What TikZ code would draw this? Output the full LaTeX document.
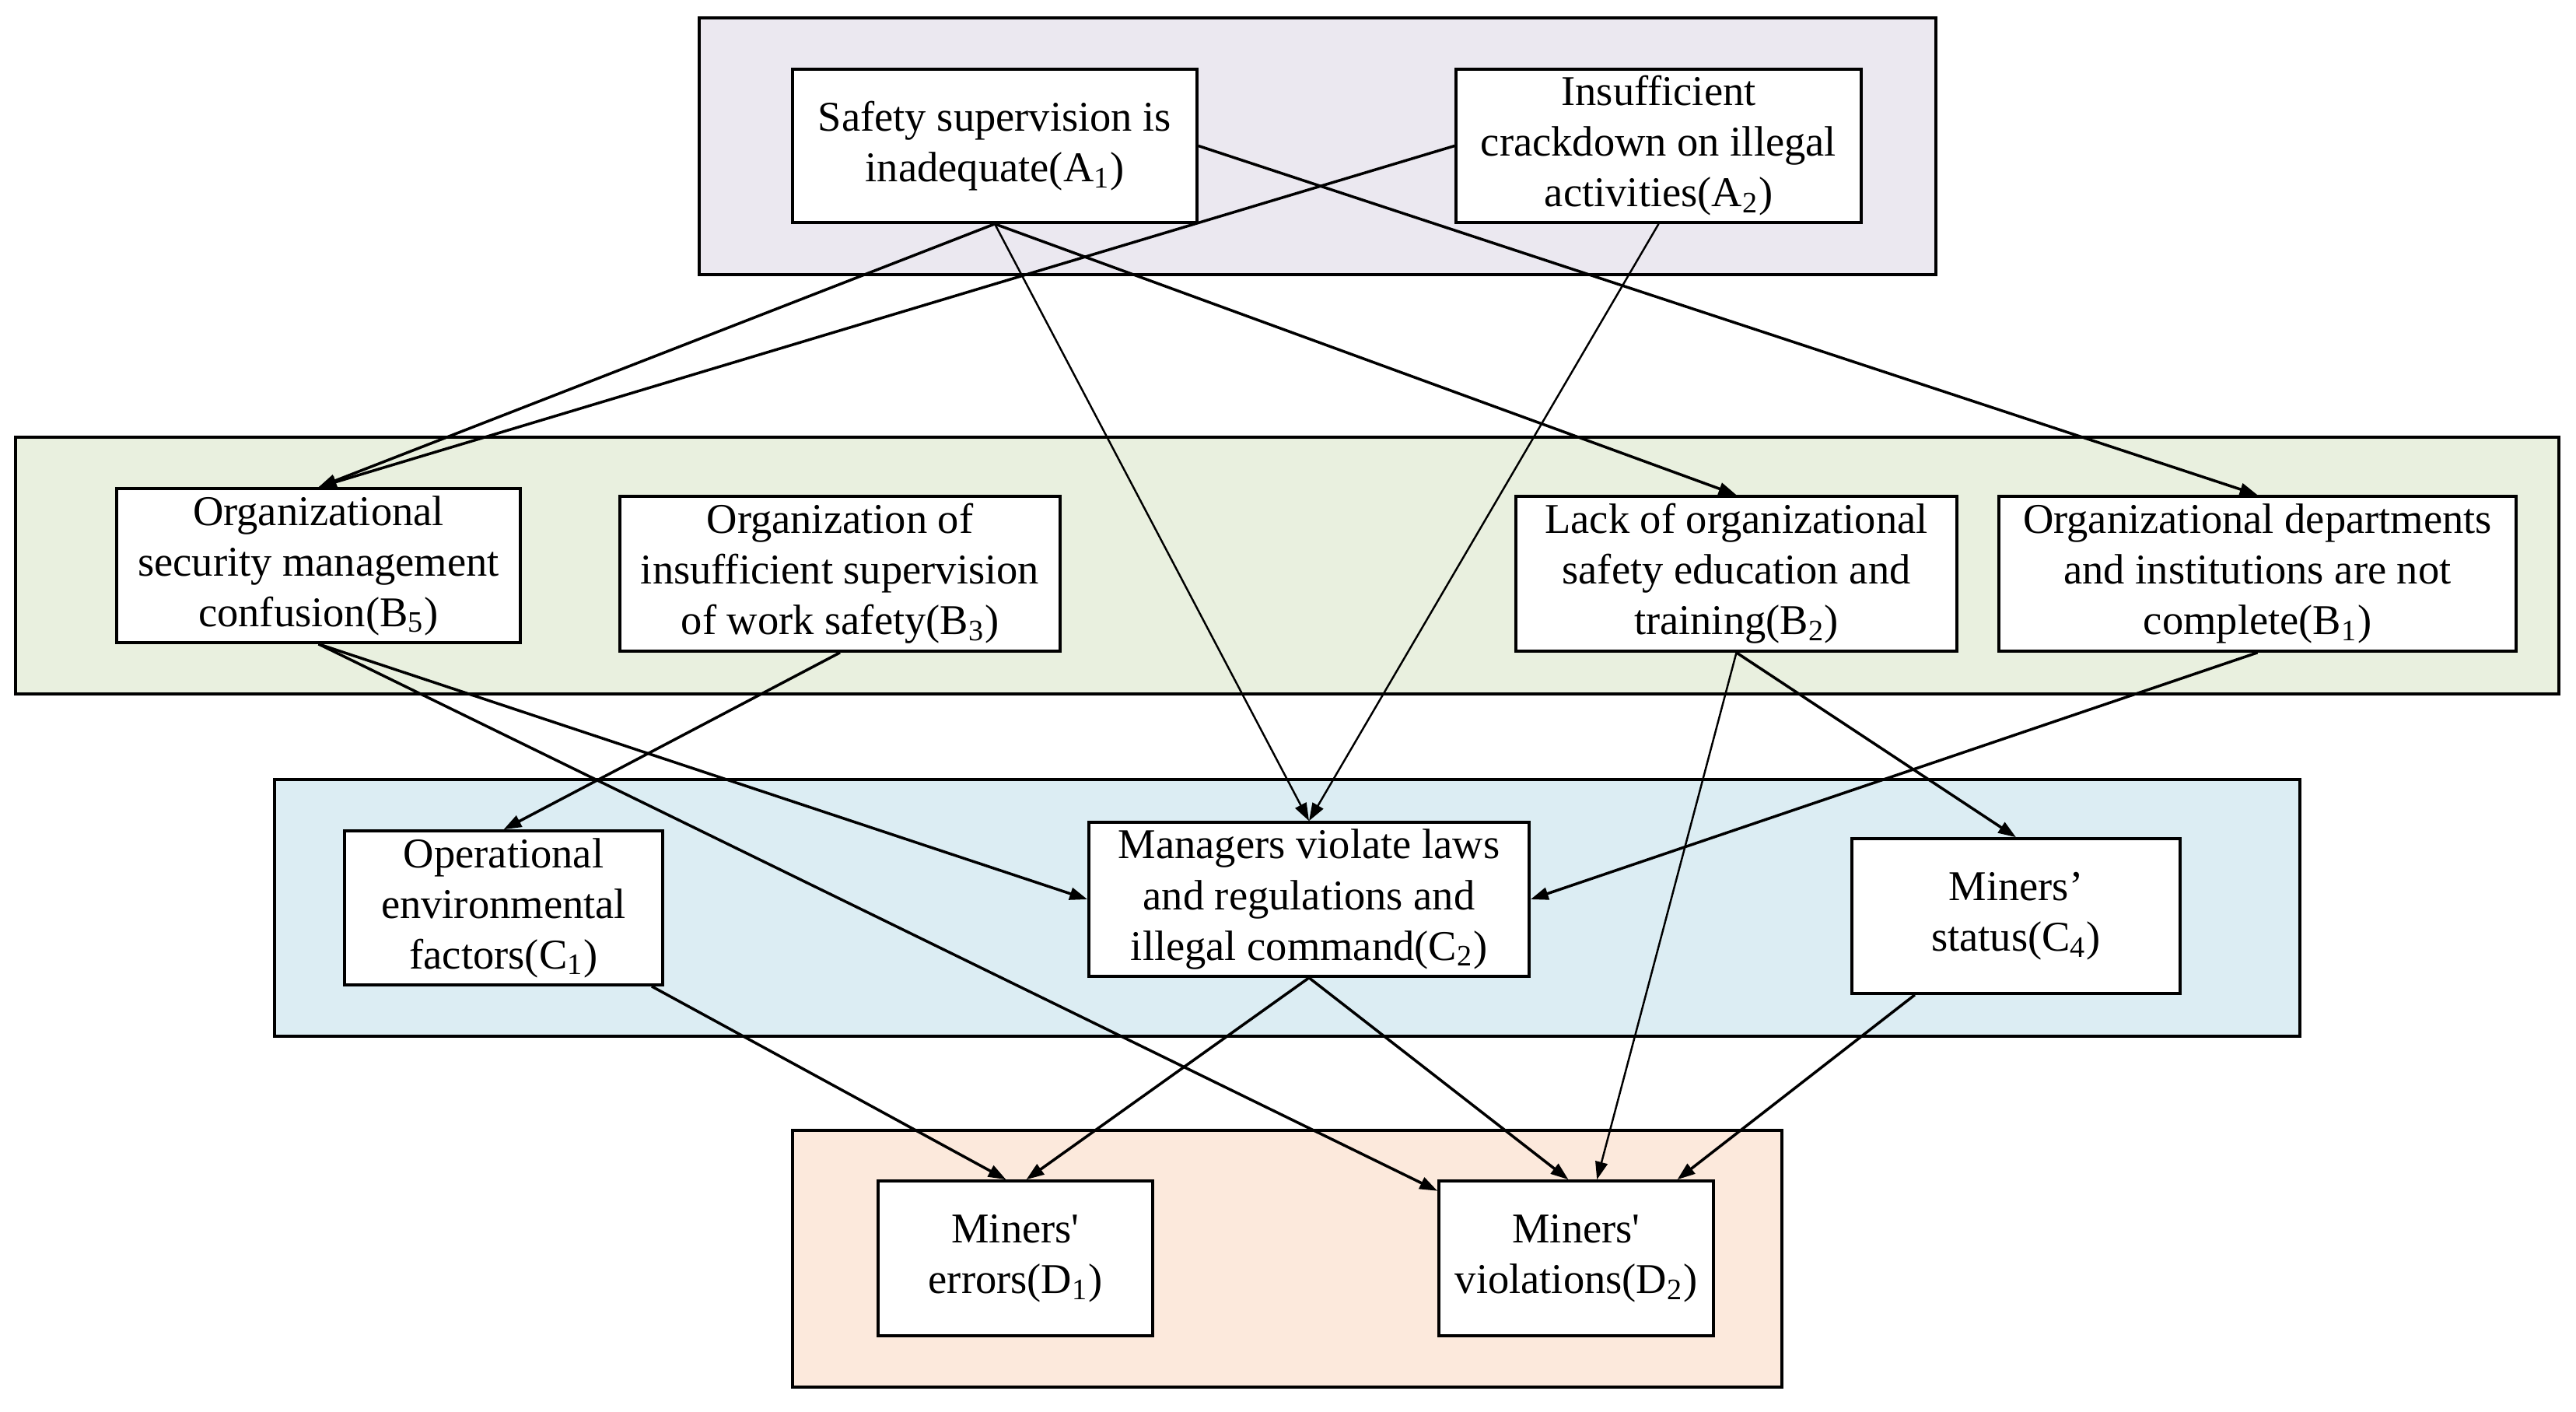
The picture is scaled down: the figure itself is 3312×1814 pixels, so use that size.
\documentclass[tikz,border=0pt]{standalone}
\usepackage{fontspec}
\setmainfont{Liberation Serif}
\usetikzlibrary{arrows.meta,calc}
\definecolor{grpA}{RGB}{235,232,240}
\definecolor{grpB}{RGB}{233,240,223}
\definecolor{grpC}{RGB}{220,237,243}
\definecolor{grpD}{RGB}{252,233,220}
\begin{document}
\begin{tikzpicture}[x=0.01cm,y=-0.01cm,
  grp/.style={draw=black,line width=1.3pt},
  box/.style={draw=black,fill=white,line width=1pt,align=center,inner sep=0pt,
    font=\fontsize{15.5pt}{18.5pt}\selectfont},
  edge/.style={line width=1pt,-{Triangle[length=6.5pt,width=4.5pt]}},
  thinedge/.style={edge,line width=0.7pt}]
\useasboundingbox (0,0) rectangle (3312,1814);
% group backgrounds
\path[grp,fill=grpA] (899,23) rectangle (2489,353);
\path[grp,fill=grpB] (20,562) rectangle (3290,892);
\path[grp,fill=grpC] (353,1002) rectangle (2957,1332);
\path[grp,fill=grpD] (1019,1453) rectangle (2291,1783);
% nodes
\node[box,minimum width=5.20cm,minimum height=1.97cm] (A1) at (1279,187.5)
  {Safety supervision is\\inadequate(A\textsubscript{1})};
\node[box,minimum width=5.21cm,minimum height=1.97cm] (A2) at (2132.5,187.5)
  {Insufficient\\crackdown on illegal\\activities(A\textsubscript{2})};
\node[box,minimum width=5.19cm,minimum height=1.98cm] (B5) at (409.5,727)
  {Organizational\\security management\\confusion(B\textsubscript{5})};
\node[box,minimum width=5.66cm,minimum height=1.99cm] (B3) at (1080,737.5)
  {Organization of\\insufficient supervision\\of work safety(B\textsubscript{3})};
\node[box,minimum width=5.67cm,minimum height=1.99cm] (B2) at (2232.5,737.5)
  {Lack of organizational\\safety education and\\training(B\textsubscript{2})};
\node[box,minimum width=6.65cm,minimum height=1.99cm] (B1) at (2902.5,737.5)
  {Organizational departments\\and institutions are not\\complete(B\textsubscript{1})};
\node[box,minimum width=4.09cm,minimum height=1.98cm] (C1) at (647.5,1167)
  {Operational\\environmental\\factors(C\textsubscript{1})};
\node[box,minimum width=5.66cm,minimum height=1.98cm] (C2) at (1683,1156)
  {Managers violate laws\\and regulations and\\illegal command(C\textsubscript{2})};
\node[box,minimum width=4.22cm,minimum height=1.99cm] (C4) at (2592,1177.5)
  {Miners’\\status(C\textsubscript{4})};
\node[box,minimum width=3.53cm,minimum height=1.99cm] (D1) at (1305.5,1617.5)
  {Miners\textquotesingle\\errors(D\textsubscript{1})};
\node[box,minimum width=3.53cm,minimum height=1.99cm] (D2) at (2026.5,1617.5)
  {Miners\textquotesingle\\violations(D\textsubscript{2})};
% connectors
\draw[edge] (A1.south) -- (B5.north);
\draw[edge] (A2.west) -- (B5.north);
\draw[thinedge] (A1.south) -- (C2.north);
\draw[thinedge] (A2.south) -- (C2.north);
\draw[edge] (A1.south) -- (B2.north);
\draw[edge] (A1.east) -- (B1.north);
\draw[edge] (B5.south) -- (C2.west);
\draw[edge] (B5.south) -- (D2);
\draw[edge] (B3.south) -- (C1.north);
\draw[thinedge] (B2.south) -- (D2);
\draw[edge] (B2.south) -- (C4.north);
\draw[edge] (B1.south) -- (C2.east);
\draw[edge] ($(C1.south east)+(-16,0)$) -- ($(D1.north)+(-12,0)$);
\draw[edge] (C2.south) -- ($(D1.north)+(14,0)$);
\draw[edge] (C2.south) -- ($(D2.north)+(-10,0)$);
\draw[edge] (C4) -- (D2);
\end{tikzpicture}
\end{document}
